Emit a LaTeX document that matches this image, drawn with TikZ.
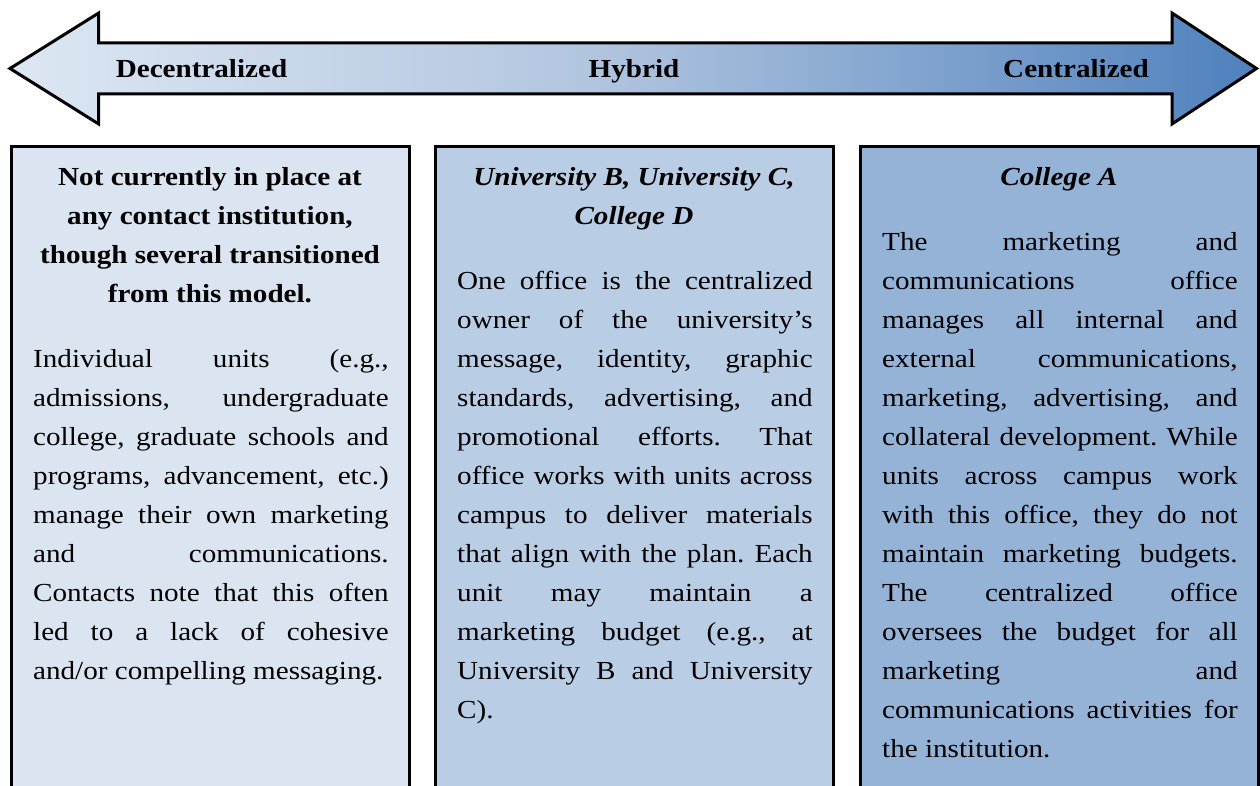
\documentclass[tikz,border=0pt]{standalone}
\usepackage{fontspec}
\setmainfont{Liberation Serif}[FakeStretch=1.12]
\frenchspacing

\definecolor{boxA}{HTML}{DBE5F1}
\definecolor{boxB}{HTML}{B9CDE5}
\definecolor{boxC}{HTML}{95B3D7}
\definecolor{arrL}{HTML}{DDE7F3}
\definecolor{arrM}{HTML}{B3C6E0}
\definecolor{arrR}{HTML}{4F81BD}

% left-to-right fill of the double arrow (central 50bp maps onto the path)
\pgfdeclarehorizontalshading{scalefill}{100bp}{%
  color(0bp)=(arrL); color(25bp)=(arrL); color(48bp)=(arrM);
  color(75bp)=(arrR); color(100bp)=(arrR)}

\newlength\colw
\setlength\colw{355.5pt}
\newcommand\just[1]{\makebox[\colw][s]{#1}}

\begin{document}
\begin{tikzpicture}[x=1pt,y=-1pt,
  every node/.style={font=\fontsize{26}{38.9}\selectfont, inner sep=0pt},
  panel/.style={draw=black, line width=3pt},
  head/.style={anchor=base, font=\fontsize{26}{38.9}\selectfont\bfseries},
  ihead/.style={anchor=base, font=\fontsize{26}{38.9}\selectfont\bfseries\itshape},
  body/.style={anchor=base west},
  scalelabel/.style={anchor=base, font=\fontsize{26}{38.9}\selectfont\bfseries}]

\useasboundingbox (0,0) rectangle (1260,786);
\clip (0,0) rectangle (1260,786);

% double-headed scale arrow
\path[shading=scalefill, draw=black, line width=3pt, line join=miter]
  (10,68.5) -- (98.7,13) -- (98.7,43) -- (1172,43) -- (1172,13)
  -- (1256.5,68.5) -- (1172,124) -- (1172,94) -- (98.7,94) -- (98.7,124) -- cycle;

\node[scalelabel] (decentral) at (201.5,77.3) {Decentralized};
\node[scalelabel] (hybrid) at (634,77.3) {Hybrid};
\node[scalelabel] (central) at (1076,77.3) {Centralized};

% three model panels (they run on past the lower edge)
\path[panel, fill=boxA] (11.3,146.7) rectangle (409,820);
\path[panel, fill=boxB] (435,146.7) rectangle (833.3,820);
\path[panel, fill=boxC] (860,146.7) rectangle (1258.3,820);

% --- decentralized panel ---
\foreach \txt [count=\i from 0] in
  {{Not currently in place at},{any contact institution,},
   {though several transitioned},{from this model.}}
  \node[head] (h1-\i) at (210,186+38.9*\i) {\txt};

\foreach \txt [count=\i from 0] in
  {{Individual units (e.g.,},{admissions, undergraduate},
   {college, graduate schools and},{programs, advancement, etc.)},
   {manage their own marketing},{and communications.},
   {Contacts note that this often},{led to a lack of cohesive}}
  \node[body] (p1-\i) at (33,367.7+38.95*\i) {\just{\txt}};
\node[body] (p1-8) at (33,367.7+38.95*8) {and/or compelling messaging.};

% --- hybrid panel ---
\foreach \txt [count=\i from 0] in
  {{University B, University C,},{College D}}
  \node[ihead] (h2-\i) at (634,186+38.9*\i) {\txt};

\foreach \txt [count=\i from 0] in
  {{One office is the centralized},{owner of the university’s},
   {message, identity, graphic},{standards, advertising, and},
   {promotional efforts. That},{office works with units across},
   {campus to deliver materials},{that align with the plan. Each},
   {unit may maintain a},{marketing budget (e.g., at},
   {University B and University}}
  \node[body] (p2-\i) at (457,289.9+38.95*\i) {\just{\txt}};
\node[body] (p2-11) at (457,289.9+38.95*11) {C).};

% --- centralized panel ---
\node[ihead] (h3-0) at (1059,186) {College A};

\foreach \txt [count=\i from 0] in
  {{The marketing and},{communications office},
   {manages all internal and},{external communications,},
   {marketing, advertising, and},{collateral development. While},
   {units across campus work},{with this office, they do not},
   {maintain marketing budgets.},{The centralized office},
   {oversees the budget for all},{marketing and},
   {communications activities for}}
  \node[body] (p3-\i) at (882,251+38.95*\i) {\just{\txt}};
\node[body] (p3-13) at (882,251+38.95*13) {the institution.};

\end{tikzpicture}
\end{document}
